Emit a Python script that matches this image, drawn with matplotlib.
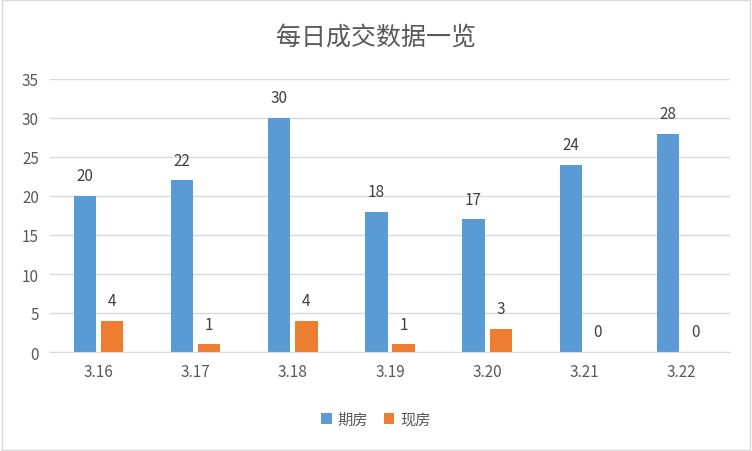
import matplotlib
matplotlib.use("Agg")
import matplotlib.pyplot as plt
import numpy as np

plt.rcParams['font.family'] = ['Noto Sans CJK SC', 'DejaVu Sans']

categories = ["3.16", "3.17", "3.18", "3.19", "3.20", "3.21", "3.22"]
qifang = [20, 22, 30, 18, 17, 24, 28]
xianfang = [4, 1, 4, 1, 3, 0, 0]

fig = plt.figure(figsize=(7.52, 4.52), dpi=100)
ax = fig.add_axes([50/752, 1-353/452, 680/752, 273/452])
x = np.arange(len(categories))
w = 0.23
off = 0.14
b1 = ax.bar(x - off, qifang, w, color='#5B9BD5', label='期房')
b2 = ax.bar(x + off, xianfang, w, color='#ED7D31', label='现房')
for bars in (b1, b2):
    for r in bars:
        ax.text(r.get_x() + r.get_width()/2, r.get_height() + 1.5, f"{int(r.get_height())}",
                ha='center', va='bottom', fontsize=11, color='#404040')
ax.set_xlim(-0.5, len(categories) - 0.5)
ax.set_ylim(0, 35)
ax.set_yticks(range(0, 36, 5))
ax.set_xticks(x)
ax.set_xticklabels(categories)
ax.tick_params(length=0, labelsize=11, colors='#595959', pad=8)
ax.grid(axis='y', color='#D9D9D9', lw=1)
ax.set_axisbelow(True)
for s in ['top', 'right', 'left']:
    ax.spines[s].set_visible(False)
ax.spines['bottom'].set_color('#D9D9D9')
fig.text(0.5, 1-38/452, "每日成交数据一览", ha='center', va='center', fontsize=18, color='#595959')
fig.legend(loc='center', bbox_to_anchor=(0.5, 1-420/452), ncol=2, frameon=False,
           fontsize=11, handlelength=0.7, handleheight=0.7, handletextpad=0.4,
           columnspacing=1.0, labelcolor='#595959')
fig.patches.append(plt.Rectangle((0.002, 0.002), 0.996, 0.996, transform=fig.transFigure,
                                 fill=False, edgecolor='#D9D9D9', lw=1))
fig.savefig("out.png", dpi=100)
